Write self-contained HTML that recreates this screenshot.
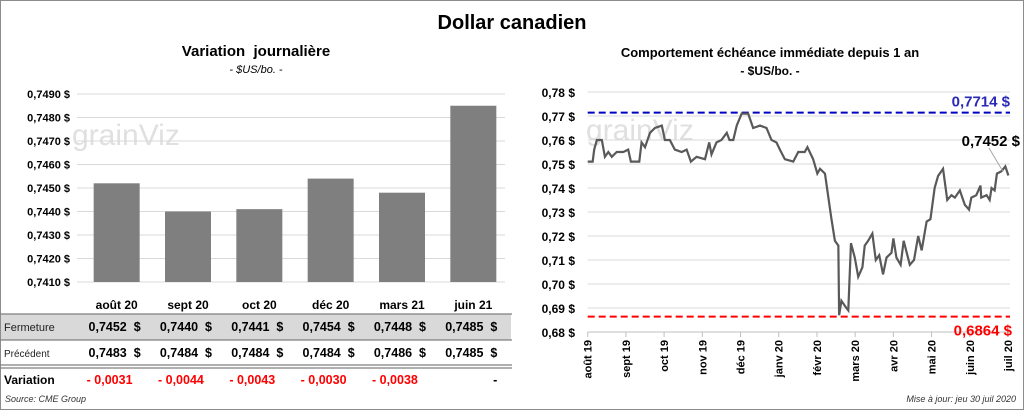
<!DOCTYPE html>
<html><head><meta charset="utf-8"><style>
body{margin:0;background:#fff}
#root{position:relative;width:1024px;height:410px;overflow:hidden;font-family:"Liberation Sans",sans-serif;background:#fff}
#frame{position:absolute;left:0;top:0;width:1022px;height:408px;border:1px solid #8c8c8c}
.t{position:absolute;white-space:nowrap}
</style></head><body>
<div id="root">
<div id="frame"></div>
<div class="t" style="left:0;width:1024px;text-align:center;top:12px;font-size:20px;font-weight:bold">Dollar canadien</div>
<div class="t" style="left:0;width:512px;text-align:center;top:43px;font-size:15px;font-weight:bold">Variation&nbsp; journalière</div>
<div class="t" style="left:0;width:512px;text-align:center;top:64px;font-size:11px;font-style:italic">- $US/bo. -</div>
<div class="t" style="left:520px;width:500px;text-align:center;top:45px;font-size:13px;font-weight:bold">Comportement échéance immédiate depuis 1 an</div>
<div class="t" style="left:520px;width:500px;text-align:center;top:64px;font-size:12px;font-weight:bold">- $US/bo. -</div>
<svg id="svg" width="1024" height="410" style="position:absolute;left:0;top:0"></svg>
<div class="t" style="left:5px;top:394px;font-size:9px;font-style:italic;color:#333">Source: CME Group</div>
<div class="t" style="right:8px;top:394px;font-size:9px;font-style:italic;color:#333">Mise à jour: jeu 30 juil 2020</div>
</div>
<script>
const barCats=["août 20","sept 20","oct 20","déc 20","mars 21","juin 21"];
const closeVals=[0.7452,0.7440,0.7441,0.7454,0.7448,0.7485];
const prevVals=[0.7483,0.7484,0.7484,0.7484,0.7486,0.7485];
const barTicks=[0.7410,0.7420,0.7430,0.7440,0.7450,0.7460,0.7470,0.7480,0.7490];
const lineMonths=["août 19","sept 19","oct 19","nov 19","déc 19","janv 20","févr 20","mars 20","avr 20","mai 20","juin 20","juil 20"];
const lineTicks=[0.68,0.69,0.70,0.71,0.72,0.73,0.74,0.75,0.76,0.77,0.78];
const lineT=[0,.13,.17,.24,.37,.45,.54,.63,.76,.93,1.06,1.13,1.28,1.35,1.41,1.50,1.63,1.76,1.94,2.02,2.15,2.28,2.46,2.59,2.70,2.85,3.07,3.18,3.24,3.37,3.50,3.64,3.71,3.81,3.90,4.03,4.20,4.33,4.51,4.68,4.81,4.94,5.03,5.16,5.38,5.51,5.68,5.75,5.90,6.01,6.08,6.21,6.29,6.38,6.47,6.56,6.58,6.64,6.77,6.82,6.89,6.99,7.08,7.19,7.25,7.34,7.45,7.54,7.63,7.73,7.82,7.95,8.00,8.08,8.19,8.27,8.43,8.54,8.65,8.74,8.87,8.97,9.08,9.17,9.30,9.41,9.52,9.61,9.74,9.87,9.98,10.04,10.17,10.28,10.30,10.44,10.52,10.57,10.65,10.71,10.83,10.93,11.01];
const lineV=[0.751,0.751,0.756,0.760,0.760,0.753,0.755,0.753,0.755,0.755,0.756,0.751,0.751,0.751,0.759,0.757,0.763,0.765,0.766,0.760,0.760,0.756,0.755,0.756,0.751,0.753,0.752,0.759,0.754,0.759,0.760,0.763,0.760,0.760,0.766,0.771,0.771,0.765,0.766,0.765,0.760,0.759,0.756,0.752,0.751,0.755,0.755,0.757,0.752,0.746,0.748,0.746,0.737,0.727,0.718,0.716,0.687,0.693,0.690,0.689,0.717,0.711,0.703,0.707,0.716,0.718,0.721,0.710,0.712,0.704,0.711,0.713,0.719,0.711,0.708,0.718,0.708,0.710,0.720,0.714,0.726,0.727,0.740,0.745,0.748,0.735,0.737,0.736,0.739,0.733,0.731,0.736,0.737,0.741,0.736,0.737,0.735,0.740,0.739,0.746,0.747,0.749,0.7452];
const highVal=0.7714, lowVal=0.6864, lastVal=0.7452;

const NS="http://www.w3.org/2000/svg", svg=document.getElementById('svg');
function mk(tag,attrs,name,txt){const e=document.createElementNS(NS,tag);for(const k in attrs)e.setAttribute(k,attrs[k]);


if(txt!==undefined)e.textContent=txt;svg.appendChild(e);return e;}
const fmt4=v=>v.toFixed(4).replace('.',','), fmt2=v=>v.toFixed(2).replace('.',',');
const SP='\u00a0\u00a0';

mk('text',{x:72,y:145,'font-size':30,fill:'#e0e0e0'},'watermark-left','grainViz');
mk('text',{x:586,y:140,'font-size':30,fill:'#e0e0e0'},'watermark-right','grainViz');

const bx0=77,bx1=505,by=v=>282-(v-0.7410)/0.0080*188, bw=(bx1-bx0)/barCats.length;
barTicks.forEach(v=>{mk('line',{x1:bx0,x2:bx1,y1:by(v),y2:by(v),stroke:'#d9d9d9'},'y-gridline');
mk('text',{x:70,y:by(v)+4,'font-size':11,'font-weight':'bold','text-anchor':'end'},'y-tick-label',fmt4(v)+' $');});
closeVals.forEach((v,i)=>{const cx=bx0+bw*(i+0.5)+4;mk('rect',{x:cx-23,y:by(v),width:46,height:282-by(v),fill:'#7f7f7f'},'bar-'+i);});
mk('rect',{x:1,y:314,width:510,height:26,fill:'#d9d9d9'},'fermeture-row-bg');
[314,340,365,368].forEach(y=>mk('line',{x1:0,x2:512,y1:y,y2:y,stroke:'#7f7f7f','stroke-width':1.2},'table-rule'));
mk('text',{x:4,y:331,'font-size':11,fill:'#222'},'row-label-fermeture','Fermeture');
mk('text',{x:4,y:357,'font-size':10,fill:'#222'},'row-label-precedent','Précédent');
mk('text',{x:4,y:384,'font-size':12,'font-weight':'bold'},'row-label-variation','Variation');
barCats.forEach((c,i)=>{const cx=bx0+bw*(i+0.5)+4;
mk('text',{x:cx,y:309,'font-size':12,'font-weight':'bold','text-anchor':'middle'},'x-category-label',c);
mk('text',{x:cx+24,y:331,'font-size':12.5,'font-weight':'bold','text-anchor':'end'},'close-value',fmt4(closeVals[i])+SP+'$');
mk('text',{x:cx+24,y:357,'font-size':12.5,'font-weight':'bold','text-anchor':'end'},'prev-value',fmt4(prevVals[i])+SP+'$');
const d=closeVals[i]-prevVals[i], z=Math.abs(d)<1e-6;
mk('text',{x:z?cx+24:cx-30,y:384,'font-size':12.5,'font-weight':'bold','text-anchor':z?'end':'start',fill:z?'#000':'#ff0000'},'variation-value',z?'-':'- '+fmt4(Math.abs(d)));});

const lx0=587.7,lx1=1008,ly=v=>332-(v-0.68)/0.10*240, lx=t=>lx0+t*(lx1-lx0)/11;
lineTicks.forEach(v=>{mk('line',{x1:lx0,x2:1010,y1:ly(v),y2:ly(v),stroke:'#d9d9d9'},'y-gridline-right');
mk('text',{x:575,y:ly(v)+5,'font-size':12,'font-weight':'bold','text-anchor':'end'},'y-tick-label-right',fmt2(v)+' $');});
mk('line',{x1:lx0,x2:1010,y1:332,y2:332,stroke:'#bfbfbf'},'x-axis');
lineMonths.forEach((m,i)=>{const x=lx(i);mk('line',{x1:x,x2:x,y1:332,y2:337,stroke:'#bfbfbf'},'x-tick');
mk('text',{x:0,y:0,'font-size':11,'font-weight':'bold','text-anchor':'end',transform:`translate(${x+4},340) rotate(-90)`},'x-tick-label-right',m);});
mk('line',{x1:lx0,x2:1010,y1:ly(highVal),y2:ly(highVal),stroke:'#0000c0','stroke-width':2,'stroke-dasharray':'7,4'},'high-line');
mk('line',{x1:lx0,x2:1010,y1:ly(lowVal),y2:ly(lowVal),stroke:'#ff0000','stroke-width':2,'stroke-dasharray':'7,4'},'low-line');
mk('polyline',{points:lineT.map((t,i)=>lx(t)+','+ly(lineV[i])).join(' '),fill:'none',stroke:'#595959','stroke-width':2.2},'price-line');
mk('text',{x:1010,y:ly(highVal)-6,'font-size':15,'font-weight':'bold','text-anchor':'end',fill:'#2a2ab8'},'high-label',fmt4(highVal)+' $');
mk('text',{x:1012,y:ly(lowVal)+19,'font-size':15,'font-weight':'bold','text-anchor':'end',fill:'#ff0000'},'low-label',fmt4(lowVal)+' $');
mk('line',{x1:989,y1:148,x2:1003,y2:ly(lastVal)-4,stroke:'#a6a6a6'},'last-callout-line');
mk('text',{x:1020,y:146,'font-size':15,'font-weight':'bold','text-anchor':'end'},'last-label',fmt4(lastVal)+' $');
</script>
</body></html>
